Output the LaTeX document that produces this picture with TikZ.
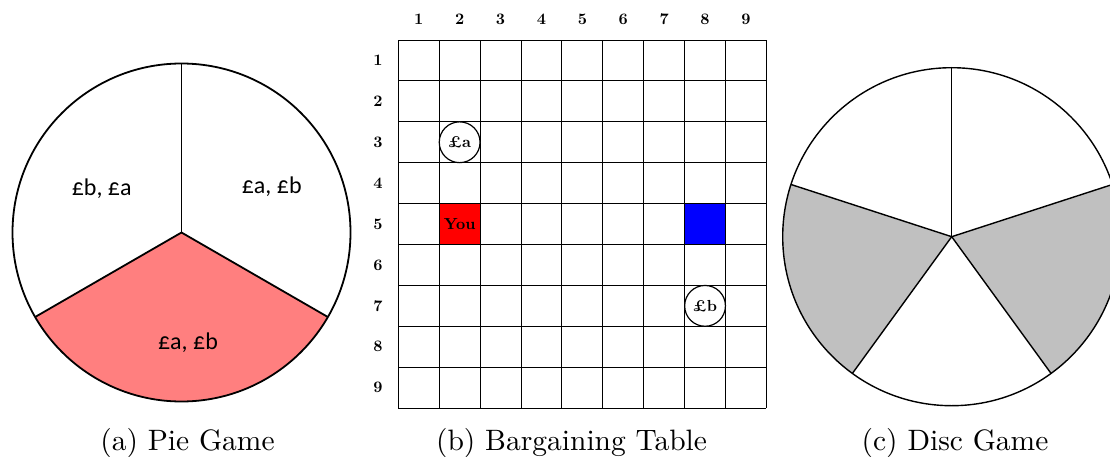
\documentclass[tikz,border=0pt]{standalone}
\usepackage{fontspec}
\newfontfamily\carlito{Carlito}
\usepackage{tikz}

\definecolor{piered}{RGB}{255,127,127}
\definecolor{discgray}{RGB}{192,192,192}

\tikzset{
  pieline/.style={line width=1.8pt},
  discline/.style={line width=1.4pt},
  pielabel/.style={font=\carlito\fontsize{24}{28}\selectfont, anchor=base, inner sep=0pt},
  tablabel/.style={font=\bfseries, scale=1.6, inner sep=0pt},
  coin/.style={circle, draw, fill=white, line width=1.2pt, minimum size=25.5pt, inner sep=0pt, font=\bfseries, scale=1.6},
  capt/.style={anchor=base, scale=2.95, inner sep=0pt}
}

\begin{document}
\begin{tikzpicture}[x=1pt, y=1pt]
  \useasboundingbox (0,0) rectangle (1110,456);
  \clip (0,0) rectangle (1110,456);

  % Pie game
  \coordinate (pie) at (181.5,223.5);
  \fill[piered] (pie) -- ++(210:169) arc[start angle=210, end angle=330, radius=169] -- cycle;
  \draw[pieline] (pie) circle[radius=169];
  \foreach \ang in {90,210,330}
    \draw[pieline] (pie) -- ++(\ang:169);
  \node[pielabel] (sliceL) at (101.7,261) {£b, £a};
  \node[pielabel] (sliceR) at (271.7,263) {£a, £b};
  \node[pielabel] (sliceB) at (188,107) {£a, £b};

  % Bargaining table
  \begin{scope}[shift={(398.3,47.9)}, x=40.9pt, y=40.9pt]
    \fill[red] (1,4) rectangle (2,5);
    \fill[blue] (7,4) rectangle (8,5);
    \draw[line width=0.9pt, step=1] (0,0) grid (9,9);
    \foreach \i in {1,...,9} {
      \node[tablabel] (col\i) at (\i-0.5, 9.5) {\i};
      \node[tablabel] (row\i) at (-0.5, 9.5-\i) {\i};
    }
    \node[tablabel] (you) at (1.5,4.5) {You};
    \node[coin] (coinA) at (1.5,6.5) {\pounds a};
    \node[coin] (coinB) at (7.5,2.5) {\pounds b};
  \end{scope}

  % Disc game
  \coordinate (disc) at (951.7,219.3);
  \fill[discgray] (disc) -- ++(162:169) arc[start angle=162, end angle=234, radius=169] -- cycle;
  \fill[discgray] (disc) -- ++(306:169) arc[start angle=306, end angle=378, radius=169] -- cycle;
  \draw[discline] (disc) circle[radius=169];
  \foreach \ang in {18,90,162,234,306}
    \draw[discline] (disc) -- ++(\ang:169);

  % Captions
  \node[capt] (capA) at (187.5,5.5) {(a) Pie Game};
  \node[capt] (capB) at (571.5,5.5) {(b) Bargaining Table};
  \node[capt] (capC) at (955,5.5) {(c) Disc Game};
\end{tikzpicture}
\end{document}
